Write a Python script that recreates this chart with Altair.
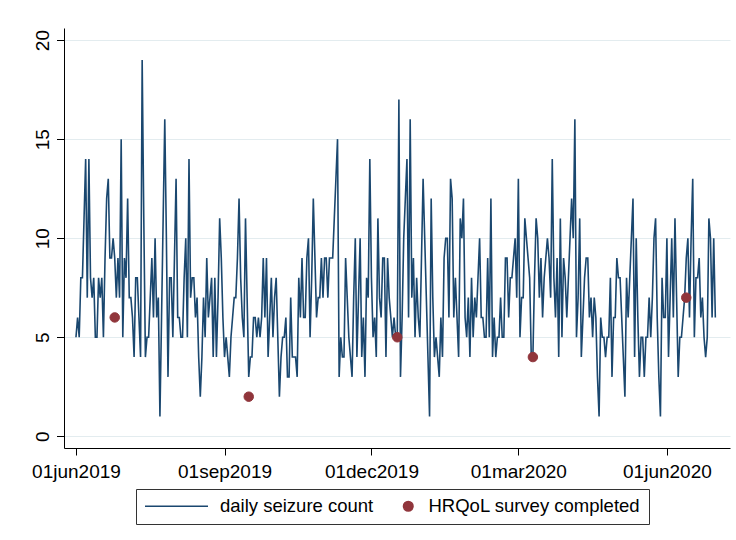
import altair as alt
import pandas as pd

# Daily seizure counts, one value per day starting 1 June 2019
first_day = "2019-06-01"
seizure_counts = [
    5, 6, 5, 8, 8, 11, 14, 7, 14, 8, 7, 8, 5, 5, 8, 7, 8, 5, 9, 12, 13, 9, 9, 10, 9, 7, 9, 7, 15, 5, 9, 8,
    12, 7, 7, 6, 4, 8, 8, 6, 4, 19, 11, 4, 5, 5, 7, 9, 6, 10, 6, 7, 1, 6, 11, 16, 10, 3, 8, 8, 5, 9, 13, 6, 6,
    5, 5, 8, 10, 5, 14, 7, 8, 8, 6, 7, 4, 2, 4, 7, 5, 9, 6, 7, 8, 4, 8, 4, 7, 11, 9, 6, 4, 5, 4, 3, 5, 6,
    7, 7, 9, 12, 8, 6, 5, 11, 7, 3, 4, 4, 6, 6, 5, 6, 5, 6, 9, 6, 9, 4, 6, 8, 5, 7, 8, 5, 2, 4, 5, 5, 6, 3,
    3, 7, 4, 4, 4, 3, 8, 6, 9, 6, 6, 9, 10, 5, 8, 12, 9, 6, 7, 7, 9, 7, 9, 9, 7, 9, 9, 9, 11, 13, 15, 3, 5,
    4, 4, 9, 7, 5, 4, 3, 7, 10, 4, 7, 10, 4, 6, 3, 8, 7, 14, 8, 5, 6, 4, 11, 7, 6, 9, 9, 4, 9, 7, 6, 5, 6,
    5, 5, 17, 3, 6, 10, 12, 14, 6, 16, 7, 9, 5, 8, 6, 5, 9, 13, 10, 7, 4, 1, 12, 7, 4, 5, 4, 3, 6, 4, 9, 10, 10, 6,
    13, 12, 6, 8, 6, 4, 11, 10, 12, 6, 5, 7, 4, 8, 5, 7, 6, 8, 10, 6, 6, 5, 5, 9, 5, 12, 4, 6, 4, 5, 5, 7, 5,
    5, 9, 9, 6, 8, 8, 9, 10, 7, 13, 5, 7, 7, 11, 10, 9, 8, 4, 4, 8, 11, 10, 7, 9, 6, 8, 9, 10, 9, 7, 14, 8, 6, 9,
    4, 11, 5, 9, 8, 6, 8, 10, 12, 10, 16, 5, 7, 11, 4, 6, 8, 9, 9, 6, 7, 5, 7, 6, 3, 1, 6, 5, 5, 4, 5, 5, 8,
    3, 6, 6, 9, 8, 8, 6, 4, 2, 8, 6, 8, 10, 12, 4, 10, 6, 3, 5, 5, 3, 5, 5, 7, 5, 7, 10, 11, 6, 3, 1, 8, 6,
    6, 10, 4, 7, 10, 6, 11, 7, 3, 5, 5, 6, 7, 9, 10, 6, 10, 13, 5, 8, 8, 9, 6, 7, 5, 4, 5, 11, 10, 6, 10, 6,
]

# Days on which the HRQoL questionnaire was completed
survey_dates = ["2019-06-25", "2019-09-16", "2019-12-17", "2020-03-10", "2020-06-13"]
survey_counts = [6, 2, 5, 4, 7]

series_names = ["daily seizure count", "HRQoL survey completed"]
series_colors = ["#1a476f", "#90353b"]

daily = pd.DataFrame({
    "date": pd.date_range(first_day, periods=len(seizure_counts), freq="D").strftime("%Y-%m-%d"),
    "count": seizure_counts,
    "series": series_names[0],
})
surveys = pd.DataFrame({"date": survey_dates, "count": survey_counts, "series": series_names[1]})

FONT = "Liberation Sans"

x_ticks = [
    alt.DateTime(year=2019, month=6, date=1, utc=True),
    alt.DateTime(year=2019, month=9, date=1, utc=True),
    alt.DateTime(year=2019, month=12, date=1, utc=True),
    alt.DateTime(year=2020, month=3, date=1, utc=True),
    alt.DateTime(year=2020, month=6, date=1, utc=True),
]

x_enc = alt.X(
    "date:T",
    scale=alt.Scale(
        type="utc",
        domain=[alt.DateTime(year=2019, month=5, date=24, hours=14, utc=True),
                alt.DateTime(year=2020, month=7, date=10, hours=2, utc=True)],
    ),
    axis=alt.Axis(
        values=x_ticks,
        labelExpr="lower(utcFormat(datum.value, '%d%b%Y'))",
        title=None,
        grid=False,
        domainColor="black",
        tickColor="black",
        tickSize=7,
        labelFontSize=19,
        labelFont=FONT,
        labelColor="black",
        labelPadding=7,
        labelFlush=False,
        labelOverlap=False,
    ),
)

y_enc = alt.Y(
    "count:Q",
    scale=alt.Scale(domain=[-0.59, 20.61], nice=False, zero=False),
    axis=alt.Axis(
        values=[0, 5, 10, 15, 20],
        title=None,
        grid=True,
        gridColor="#e3ecef",
        gridWidth=1,
        domainColor="black",
        tickColor="black",
        tickSize=7.5,
        labelAngle=270,
        labelAlign="center",
        labelBaseline="alphabetic",
        labelFontSize=19,
        labelFont=FONT,
        labelColor="black",
        labelPadding=8,
    ),
)

color_scale = alt.Scale(domain=series_names, range=series_colors)
shape_scale = alt.Scale(domain=series_names, range=["stroke", "circle"])
size_scale = alt.Scale(domain=series_names, range=[3969, 90])

legend = alt.Legend(
    title=None,
    orient="none",
    legendX=72,
    legendY=461,
    direction="horizontal",
    strokeColor="#333333",
    fillColor="white",
    padding=8,
    clipHeight=18,
    labelFont=FONT,
    labelFontSize=18.5,
    labelColor="black",
    labelOffset=11,
    labelLimit=400,
    symbolStrokeWidth=1.6,
    symbolOpacity=1,
    columnPadding=25,
)

line = alt.Chart(daily).mark_line(strokeWidth=1.6, interpolate="linear").encode(
    x=x_enc,
    y=y_enc,
    stroke=alt.Stroke("series:N", scale=color_scale, legend=legend),
)

dots = alt.Chart(surveys).mark_point(filled=True, opacity=1, strokeWidth=1).encode(
    x=x_enc,
    y=y_enc,
    fill=alt.Fill("series:N", scale=color_scale, legend=legend),
    stroke=alt.Stroke("series:N", scale=color_scale, legend=legend),
    shape=alt.Shape("series:N", scale=shape_scale, legend=legend),
    size=alt.Size("series:N", scale=size_scale, legend=legend),
)

chart = (
    alt.layer(line, dots)
    .properties(
        width=666,
        height=420,
        autosize=alt.AutoSizeParams(type="none"),
        padding={"left": 64, "top": 28, "right": 6, "bottom": 92},
        background="white",
    )
    .configure_view(stroke=None)
)

chart.save("out.html", embed_options={"renderer": "svg", "actions": False})
